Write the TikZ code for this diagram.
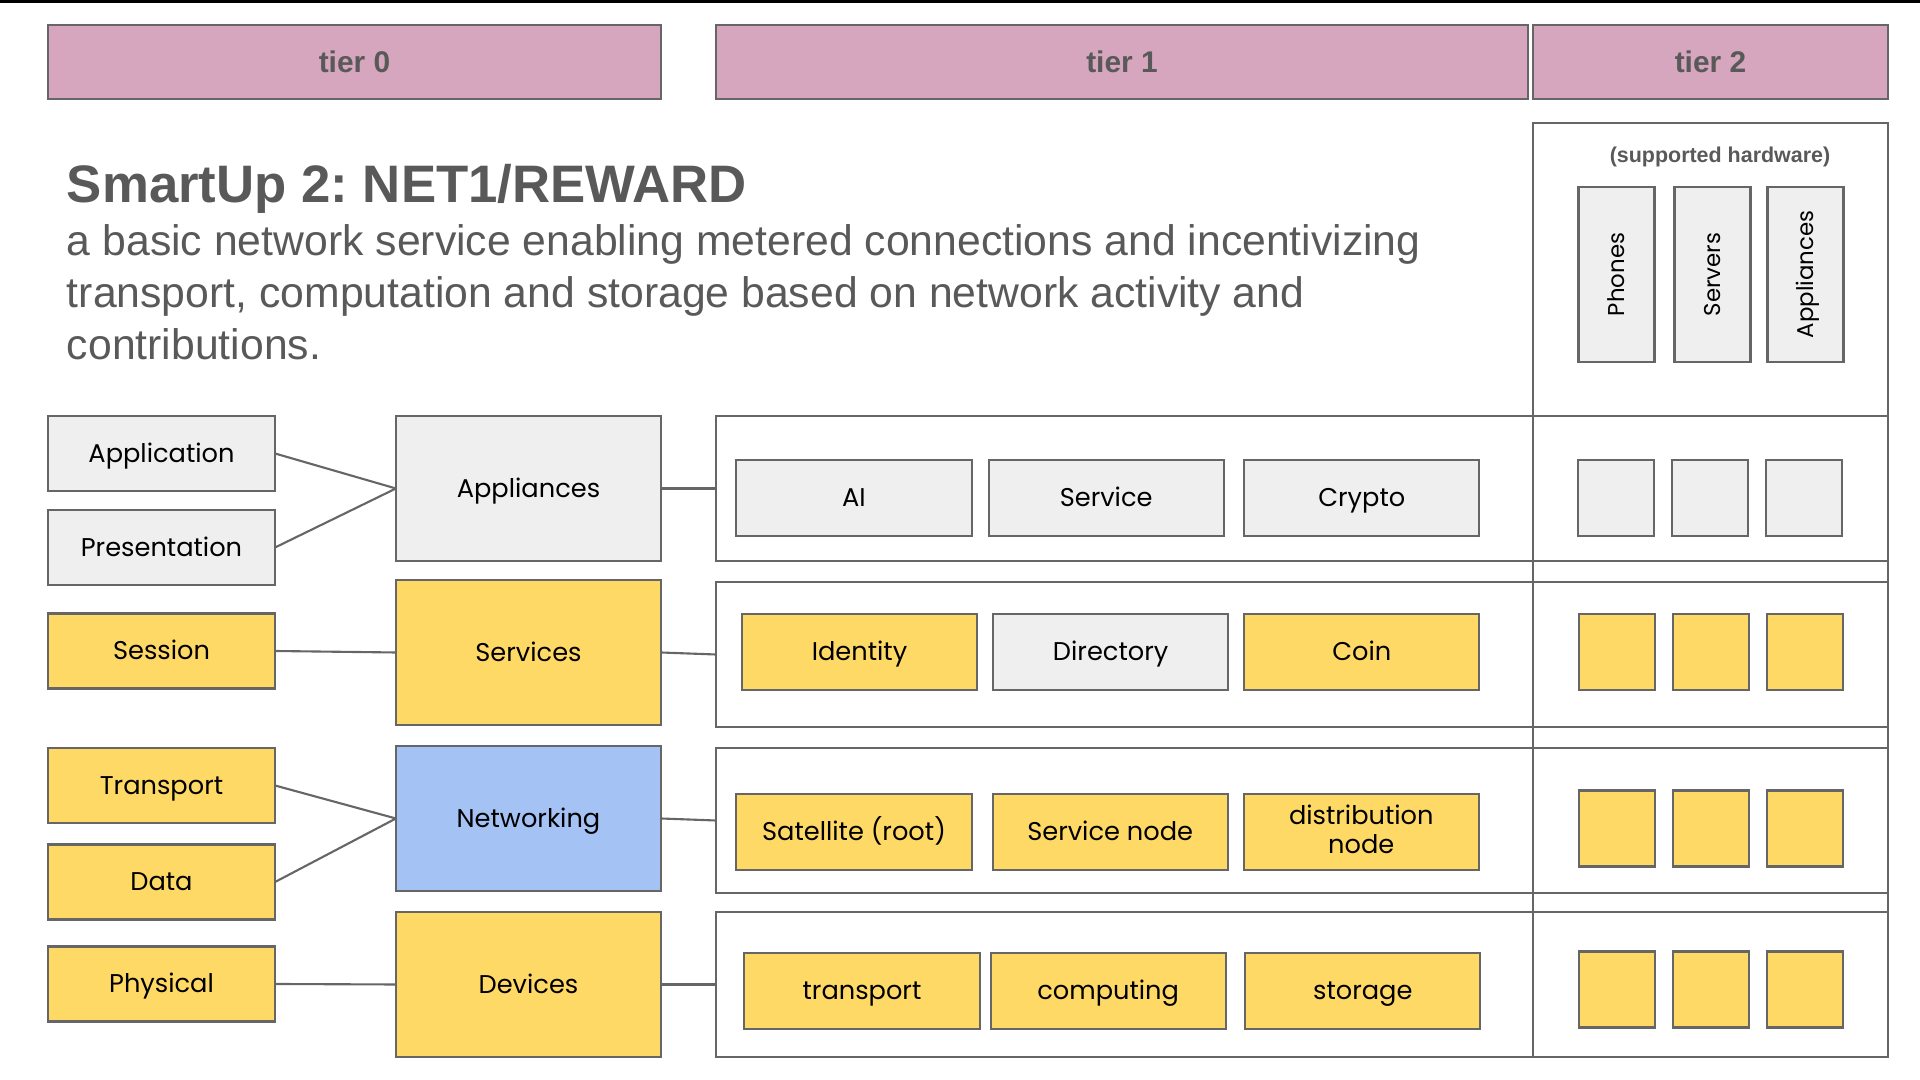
\documentclass[tikz,border=0pt]{standalone}
\usepackage{fontspec}
\setmainfont{Liberation Sans}
\newfontfamily\boxfont{Poppins}
\usetikzlibrary{positioning,chains}
\definecolor{tierpink}{HTML}{D5A6BD}
\definecolor{boxgray}{HTML}{EFEFEF}
\definecolor{boxyellow}{HTML}{FFD966}
\definecolor{boxblue}{HTML}{A4C2F4}
\definecolor{linegray}{HTML}{666666}
\definecolor{textgray}{HTML}{595959}
\frenchspacing

\begin{document}
\begin{tikzpicture}[x=0.01cm,y=-0.01cm,line width=0.6pt,outer sep=0pt,
  tierbox/.style={draw=linegray,fill=tierpink,text=textgray,minimum height=0.74cm,inner sep=0pt,
    font=\bfseries\fontsize{8.5}{10}\selectfont},
  layerbox/.style={draw=linegray,minimum width=2.27cm,minimum height=0.75cm,inner sep=0pt,
    text height=5.1pt,text depth=0pt,font=\boxfont\fontsize{7.3}{9}\selectfont},
  groupbox/.style={draw=linegray,minimum width=2.65cm,minimum height=1.45cm,inner sep=0pt,
    text height=5.1pt,text depth=0pt,font=\boxfont\fontsize{7.3}{9}\selectfont},
  rowbox/.style={draw=linegray,minimum width=11.72cm,minimum height=1.45cm,inner sep=0pt},
  itembox/.style={draw=linegray,minimum width=2.35cm,minimum height=0.76cm,inner sep=0pt,
    align=center,text height=5.1pt,text depth=0pt,font=\boxfont\fontsize{7.3}{8.5}\selectfont},
  hwbox/.style={draw=linegray,minimum width=0.76cm,minimum height=0.76cm,inner sep=0pt},
  hwtall/.style={draw=linegray,fill=boxgray,rotate=90,minimum width=1.75cm,minimum height=0.76cm,
    inner sep=0pt,text height=4.6pt,text depth=0pt,font=\boxfont\fontsize{6.5}{8}\selectfont},
  grayfill/.style={fill=boxgray},
  yellowfill/.style={fill=boxyellow},
  bluefill/.style={fill=boxblue},
  subtext/.style={anchor=base west,inner sep=0pt,text=textgray,font=\fontsize{12.15}{14.8}\selectfont}
]
\useasboundingbox (0,0) rectangle (1920,1080);
\draw[black,line width=1pt] (0,1) -- (1920,1);

% the tier headers
\node[tierbox,minimum width=6.13cm] (tier0) at (354.5,62) {tier 0};
\node[tierbox,minimum width=8.12cm] (tier1) at (1122,62) {tier 1};
\node[tierbox,minimum width=3.55cm] (tier2) at (1710.5,62) {tier 2};

% the title
\node[anchor=base west,inner sep=0pt,text=textgray,font=\bfseries\fontsize{15}{18}\selectfont] (title) at (67,203) {SmartUp 2: NET1/REWARD};
\node[subtext] (sub1) at (67,256) {a basic network service enabling metered connections and incentivizing};
\node[subtext] (sub2) at (67,308) {transport, computation and storage based on network activity and};
\node[subtext] (sub3) at (67,360) {contributions.};

% the hardware column
\draw[linegray] (1533,123) rectangle (1888,1057);
\node[text=textgray,font=\bfseries\fontsize{6.1}{7}\selectfont] (hwlabel) at (1720,157) {(supported hardware)};
\node[hwtall] (phones) at (1616.5,274.5) {Phones};
\node[hwtall] (servers) at (1712.5,274.5) {Servers};
\node[hwtall] (hwappl) at (1805.5,274.5) {Appliances};

% the layers of tier 0
\node[layerbox,grayfill] (application) at (161.5,453.5) {Application};
\node[layerbox,grayfill] (presentation) at (161.5,547.5) {Presentation};
\node[layerbox,yellowfill] (session) at (161.5,651) {Session};
\node[layerbox,yellowfill] (transport) at (161.5,785.5) {Transport};
\node[layerbox,yellowfill] (data) at (161.5,882) {Data};
\node[layerbox,yellowfill] (physical) at (161.5,984) {Physical};

\node[groupbox,grayfill] (appliances) at (528.5,488.5) {Appliances};
\node[groupbox,yellowfill] (services) at (528.5,652.5) {Services};
\node[groupbox,bluefill] (networking) at (528.5,818.5) {Networking};
\node[groupbox,yellowfill] (devices) at (528.5,984.5) {Devices};

% the rows of tier 1 and 2
\node[rowbox] (row1) at (1302,488.5) {};
\node[rowbox] (row2) at (1302,654.5) {};
\node[rowbox] (row3) at (1302,820.5) {};
\node[rowbox] (row4) at (1302,984.5) {};

\begin{scope}[start chain=going right,node distance=0.17cm]
  \node[itembox,grayfill,on chain] (ai) at (854,498) {AI};
  \node[itembox,grayfill,on chain] (service) {Service};
  \node[node distance=0.205cm,itembox,grayfill,on chain] (crypto) {Crypto};
\end{scope}
\begin{scope}[start chain=going right,node distance=0.16cm]
  \node[itembox,yellowfill,on chain] (identity) at (859.5,652) {Identity};
  \node[itembox,grayfill,on chain] (directory) {Directory};
  \node[itembox,yellowfill,on chain] (coin) {Coin};
\end{scope}
\begin{scope}[start chain=going right,node distance=0.21cm]
  \node[itembox,yellowfill,on chain] (satellite) at (854,832) {Satellite (root)};
  \node[itembox,yellowfill,on chain] (servicenode) {Service node};
  \node[node distance=0.16cm,itembox,yellowfill,on chain,text height=12.5pt] (distnode) {distribution\\node};
\end{scope}
\begin{scope}[start chain=going right,node distance=0.11cm]
  \node[itembox,yellowfill,on chain] (transportitem) at (862,991) {transport};
  \node[itembox,yellowfill,on chain] (computing) {computing};
  \node[node distance=0.195cm,itembox,yellowfill,on chain] (storage) {storage};
\end{scope}

% the hardware boxes
\begin{scope}[start chain=going right,node distance=0.18cm]
  \node[hwbox,grayfill,on chain] (hw11) at (1616,498) {};
  \node[hwbox,grayfill,on chain] (hw12) {};
  \node[hwbox,grayfill,on chain] (hw13) {};
\end{scope}
\begin{scope}[start chain=going right,node distance=0.18cm]
  \node[hwbox,yellowfill,on chain] (hw21) at (1617,652) {};
  \node[hwbox,yellowfill,on chain] (hw22) {};
  \node[hwbox,yellowfill,on chain] (hw23) {};
\end{scope}
\begin{scope}[start chain=going right,node distance=0.18cm]
  \node[hwbox,yellowfill,on chain] (hw31) at (1617,828.5) {};
  \node[hwbox,yellowfill,on chain] (hw32) {};
  \node[hwbox,yellowfill,on chain] (hw33) {};
\end{scope}
\begin{scope}[start chain=going right,node distance=0.18cm]
  \node[hwbox,yellowfill,on chain] (hw41) at (1617,989.5) {};
  \node[hwbox,yellowfill,on chain] (hw42) {};
  \node[hwbox,yellowfill,on chain] (hw43) {};
\end{scope}

% the edges
\draw[linegray] (application.east) -- (appliances.west);
\draw[linegray] (presentation.east) -- (appliances.west);
\draw[linegray] (session.east) -- (services.west);
\draw[linegray] (transport.east) -- (networking.west);
\draw[linegray] (data.east) -- (networking.west);
\draw[linegray] (physical.east) -- (devices.west);
\draw[linegray] (appliances.east) -- (row1.west);
\draw[linegray] (services.east) -- (row2.west);
\draw[linegray] (networking.east) -- (row3.west);
\draw[linegray] (devices.east) -- (row4.west);
\end{tikzpicture}
\end{document}
